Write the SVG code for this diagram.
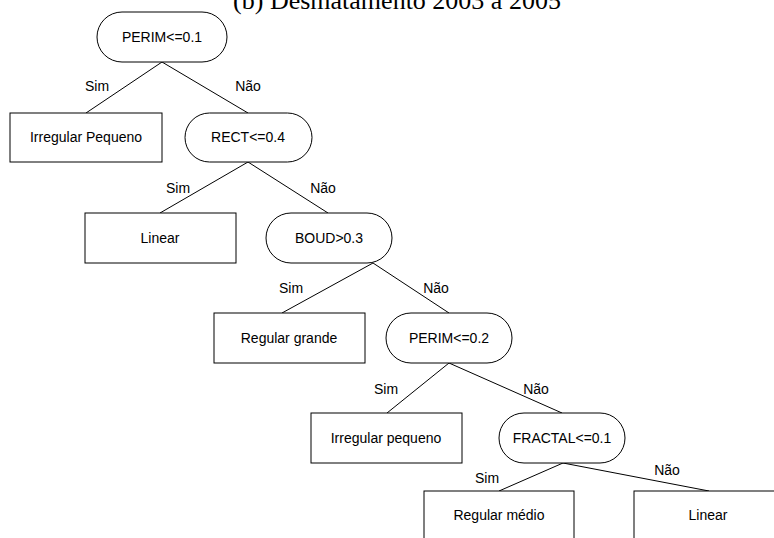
<svg xmlns="http://www.w3.org/2000/svg" width="774" height="538" viewBox="0 0 774 538">
<style>
.n{fill:#fff;stroke:#000;stroke-width:1}
.t{font-family:"Liberation Sans",Arial,sans-serif;font-size:14px;fill:#000;text-anchor:middle}
.e{stroke:#000;stroke-width:1;fill:none}
.title{font-family:"Liberation Serif","Times New Roman",serif;font-size:26px;fill:#000;text-anchor:middle}
</style>
<rect width="774" height="538" fill="#fff"/>
<text class="title" x="397" y="9">(b) Desmatamento 2003 a 2005</text>
<g id="connectors">
<path class="e" d="M162,62 L86,113 M162,62 L248,113"/>
<path class="e" d="M248,162 L160,213 M248,162 L328,213"/>
<path class="e" d="M373,263 L282,313 M373,263 L449,313"/>
<path class="e" d="M449,363 L387,413 M449,363 L562,413"/>
<path class="e" d="M563,463 L499,491 M563,463 L709,491"/>
<text class="t" x="97" y="91">Sim</text>
<text class="t" x="248" y="91">Não</text>
<text class="t" x="178" y="193">Sim</text>
<text class="t" x="323" y="193">Não</text>
<text class="t" x="291" y="293">Sim</text>
<text class="t" x="436" y="293">Não</text>
<text class="t" x="386" y="394">Sim</text>
<text class="t" x="536" y="394">Não</text>
<text class="t" x="487" y="483">Sim</text>
<text class="t" x="667" y="475">Não</text>
</g>
<g id="n1"><rect class="n" x="97" y="12" width="130" height="50" rx="25"/><text class="t" x="162" y="42">PERIM&lt;=0.1</text></g>
<g id="n2"><rect class="n" x="10" y="113" width="152" height="49"/><text class="t" x="86" y="142">Irregular Pequeno</text></g>
<g id="n3"><rect class="n" x="185" y="113" width="127" height="49" rx="24.5"/><text class="t" x="248" y="142">RECT&lt;=0.4</text></g>
<g id="n4"><rect class="n" x="85" y="213" width="151" height="50"/><text class="t" x="160" y="243">Linear</text></g>
<g id="n5"><rect class="n" x="266" y="213" width="126" height="50" rx="25"/><text class="t" x="329" y="243">BOUD&gt;0.3</text></g>
<g id="n6"><rect class="n" x="214" y="313" width="151" height="50"/><text class="t" x="289" y="343">Regular grande</text></g>
<g id="n7"><rect class="n" x="386" y="313" width="126" height="50" rx="25"/><text class="t" x="449" y="343">PERIM&lt;=0.2</text></g>
<g id="n8"><rect class="n" x="311" y="413" width="151" height="50"/><text class="t" x="386" y="443">Irregular pequeno</text></g>
<g id="n9"><rect class="n" x="499" y="413" width="126" height="50" rx="25"/><text class="t" x="562" y="443">FRACTAL&lt;=0.1</text></g>
<g id="n10"><rect class="n" x="424" y="491" width="150" height="60"/><text class="t" x="499" y="520">Regular médio</text></g>
<g id="n11"><rect class="n" x="634" y="491" width="150" height="60"/><text class="t" x="708" y="520">Linear</text></g>
</svg>
